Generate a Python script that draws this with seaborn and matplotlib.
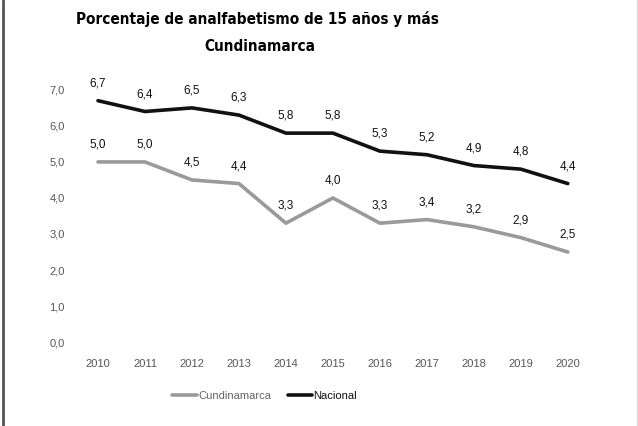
import pandas as pd
import matplotlib
matplotlib.use("Agg")
import matplotlib.pyplot as plt
from matplotlib.lines import Line2D
from matplotlib import font_manager
import seaborn as sns

# datos
years = [2010, 2011, 2012, 2013, 2014, 2015, 2016, 2017, 2018, 2019, 2020]
cundinamarca = [5.0, 5.0, 4.5, 4.4, 3.3, 4.0, 3.3, 3.4, 3.2, 2.9, 2.5]
nacional = [6.7, 6.4, 6.5, 6.3, 5.8, 5.8, 5.3, 5.2, 4.9, 4.8, 4.4]
y_ticks = [0, 1, 2, 3, 4, 5, 6, 7]
y_tick_labels = ["0,0", "1,0", "2,0", "3,0", "4,0", "5,0", "6,0", "7,0"]
series_names = ["Cundinamarca", "Nacional"]

sns.set_theme(style="white")
plt.rcParams["font.family"] = ["Liberation Sans", "DejaVu Sans"]

df = pd.DataFrame({
    "idx": list(range(len(years))) * 2,
    "valor": cundinamarca + nacional,
    "serie": [series_names[0]] * len(years) + [series_names[1]] * len(years),
})

fig = plt.figure(figsize=(6.38, 4.26), dpi=100)
ax = fig.add_axes([0.1168, 0.197, 0.810, 0.592])

palette = {"Cundinamarca": "#9a9a9a", "Nacional": "#111111"}
sns.lineplot(data=df, x="idx", y="valor", hue="serie", palette=palette,
             ax=ax, linewidth=2.6, legend=True)

# etiquetas de datos
for name, vals in [("Cundinamarca", cundinamarca), ("Nacional", nacional)]:
    for i, v in enumerate(vals):
        ax.annotate(f"{v:.1f}".replace(".", ","), (i, v), xytext=(0, 12.5),
                    textcoords="offset points", ha="center", va="center",
                    fontsize=8.5, color="#111111")

ax.set_xlim(-0.5, len(years) - 0.5)
ax.set_ylim(0, 7)
ax.set_xticks(range(len(years)))
ax.set_xticklabels([str(y) for y in years])
ax.set_yticks(y_ticks)
ax.set_yticklabels(y_tick_labels)
ax.tick_params(axis="both", length=0, labelsize=8, colors="#555555")
ax.tick_params(axis="y", pad=7)
ax.tick_params(axis="x", pad=12)
ax.set_xlabel("")
ax.set_ylabel("")
for s in ax.spines.values():
    s.set_visible(False)

leg = ax.legend(loc="upper center", bbox_to_anchor=(0.368, -0.155), ncol=2,
                frameon=False, fontsize=8, handlelength=2.2, handletextpad=0.1,
                columnspacing=1.5)
leg.get_texts()[0].set_color("#666666")
leg.get_texts()[1].set_color("#111111")

# título: fuente estrecha si existe
names = {f.name for f in font_manager.fontManager.ttflist}
condensed = [f.fname for f in font_manager.fontManager.ttflist
             if "Condensed" in f.fname and "Bold" in f.fname]
title_kw = dict(ha="center", va="center", color="black", fontweight="bold")
if "Liberation Sans Narrow" in names:
    title_kw.update(family="Liberation Sans Narrow", fontsize=13)
elif condensed:
    title_kw.update(fontproperties=font_manager.FontProperties(fname=condensed[0], size=11))
    title_kw.pop("fontweight")
else:
    title_kw.update(fontsize=10)
fig.text(0.404, 0.955, "Porcentaje de analfabetismo de 15 años y más", **title_kw)
fig.text(0.407, 0.890, "Cundinamarca", **title_kw)

# borde del recuadro escaneado
fig.add_artist(Line2D([0.005, 0.005], [0, 1], color="#555555", linewidth=2))
fig.add_artist(Line2D([0.998, 0.998], [0, 1], color="#dddddd", linewidth=1))

fig.savefig("out.png", dpi=100, facecolor="white")
